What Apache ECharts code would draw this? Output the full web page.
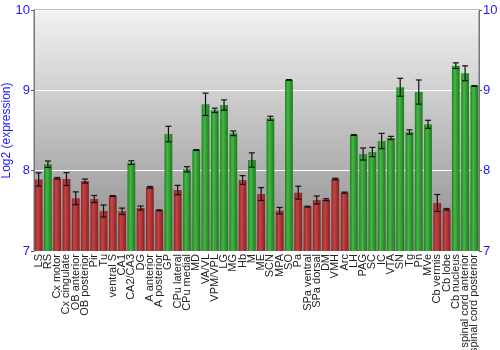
<!DOCTYPE html>
<html><head><meta charset="utf-8">
<script src="https://cdn.jsdelivr.net/npm/echarts@6/dist/echarts.min.js"></script>
<style>html,body{margin:0;padding:0;background:#fff}#c{width:500px;height:350px}</style>
</head><body><div id="c"></div>
<script>
const categories = ["LS","RS","Cx motor","Cx cingulate","OB anterior","OB posterior","Pir","Tu","ventral S","CA1","CA2/CA3","DG","A anterior","A posterior","GP","CPu lateral","CPu medial","MD","VA/VL","VPM/VPL","LG","MG","Hb","M","ME","SCN","MPA","SO","Pa","SPa ventral","SPa dorsal","DM","VMH","Arc","LH","PAG","SC","IC","VTA","SN","Tg","Pn","MVe","Cb vermis","Cb lobe","Cb nucleus","spinal cord anterior","spinal cord posterior"];
const values = [7.89,8.08,7.905,7.896,7.656,7.871,7.647,7.498,7.685,7.494,8.10,7.535,7.793,7.507,8.456,7.759,8.017,8.257,8.826,8.751,8.817,8.465,7.884,8.133,7.709,8.652,7.502,9.129,7.726,7.552,7.635,7.639,7.896,7.726,8.444,8.207,8.232,8.369,8.407,9.038,8.481,8.979,8.577,7.597,7.519,9.307,9.212,9.054];
const errors = [0.083,0.04,0.01,0.08,0.08,0.025,0.044,0.075,0.005,0.04,0.023,0.025,0.01,0.005,0.097,0.058,0.033,0.005,0.139,0.027,0.064,0.029,0.054,0.089,0.08,0.025,0.04,0.005,0.08,0.005,0.05,0.012,0.01,0.007,0.005,0.075,0.058,0.095,0.02,0.112,0.027,0.15,0.05,0.106,0.01,0.035,0.093,0.005];
const groups = ["r","g","r","r","r","r","r","r","r","r","g","r","r","r","g","r","g","g","g","g","g","g","r","g","r","g","r","g","r","r","r","r","r","r","g","g","g","g","g","g","g","g","g","r","r","g","g","g"];
const yTicks = [7,8,9,10];

const G = echarts.graphic;
const redFill = new G.LinearGradient(0,0,1,0,[{offset:0,color:'#8e2222'},{offset:0.35,color:'#c44545'},{offset:1,color:'#8a2020'}]);
const greenFill = new G.LinearGradient(0,0,1,0,[{offset:0,color:'#1f7f1f'},{offset:0.35,color:'#44b844'},{offset:1,color:'#1d7a1d'}]);

const chart = echarts.init(document.getElementById('c'), null, {renderer:'canvas'});
chart.setOption({
  animation:false,
  grid:{left:34,right:21,top:10,bottom:99,containLabel:false,outerBoundsMode:'none',show:true,borderColor:'#777',borderWidth:1,
    backgroundColor:new G.LinearGradient(0,0,0,1,[{offset:0,color:'#f2f2f2'},{offset:1,color:'#8c8c8c'}])},
  xAxis:{type:'category',data:categories,
    axisLine:{show:false},axisTick:{show:false},
    axisLabel:{rotate:90,interval:0,fontSize:11,color:'#222',fontFamily:'Liberation Sans',margin:3}},
  yAxis:[{type:'value',min:yTicks[0],max:yTicks[yTicks.length-1],interval:1,
    name:'Log2 (expression)',nameLocation:'middle',nameGap:21,nameMoveOverlap:false,nameTextStyle:{color:'#1a1aff',fontSize:12,fontFamily:'Liberation Sans'},
    axisLine:{show:true,lineStyle:{color:'#777'}},axisTick:{show:true,length:3,lineStyle:{color:'#555'}},
    axisLabel:{color:'#1a1aff',fontSize:13,fontFamily:'Liberation Sans',margin:4},
    splitLine:{show:true,lineStyle:{color:'#ffffff',width:1}}},
   {type:'value',min:yTicks[0],max:yTicks[yTicks.length-1],interval:1,position:'right',
    axisLine:{show:true,lineStyle:{color:'#777'}},axisTick:{show:true,length:3,lineStyle:{color:'#555'}},
    axisLabel:{color:'#1a1aff',fontSize:13,fontFamily:'Liberation Sans',margin:4},
    splitLine:{show:false}}],
  series:[
    {type:'bar',barCategoryGap:'16%',
     data:values.map((v,i)=>({value:v,itemStyle:{color:groups[i]==='r'?redFill:greenFill}}))},
    {type:'custom',
     data:values.map((v,i)=>[i,v,errors[i]]),
     renderItem:function(params,api){
       const x=api.value(0), v=api.value(1), e=api.value(2);
       const hi=api.coord([x,v+e]), lo=api.coord([x,v-e]);
       const w=3;
       const st={stroke:'#111',lineWidth:1.2};
       return {type:'group',children:[
         {type:'line',shape:{x1:hi[0],y1:hi[1],x2:lo[0],y2:lo[1]},style:st},
         {type:'line',shape:{x1:hi[0]-w,y1:hi[1],x2:hi[0]+w,y2:hi[1]},style:st},
         {type:'line',shape:{x1:lo[0]-w,y1:lo[1],x2:lo[0]+w,y2:lo[1]},style:st}
       ]};
     },z:5}
  ]
});
</script></body></html>
